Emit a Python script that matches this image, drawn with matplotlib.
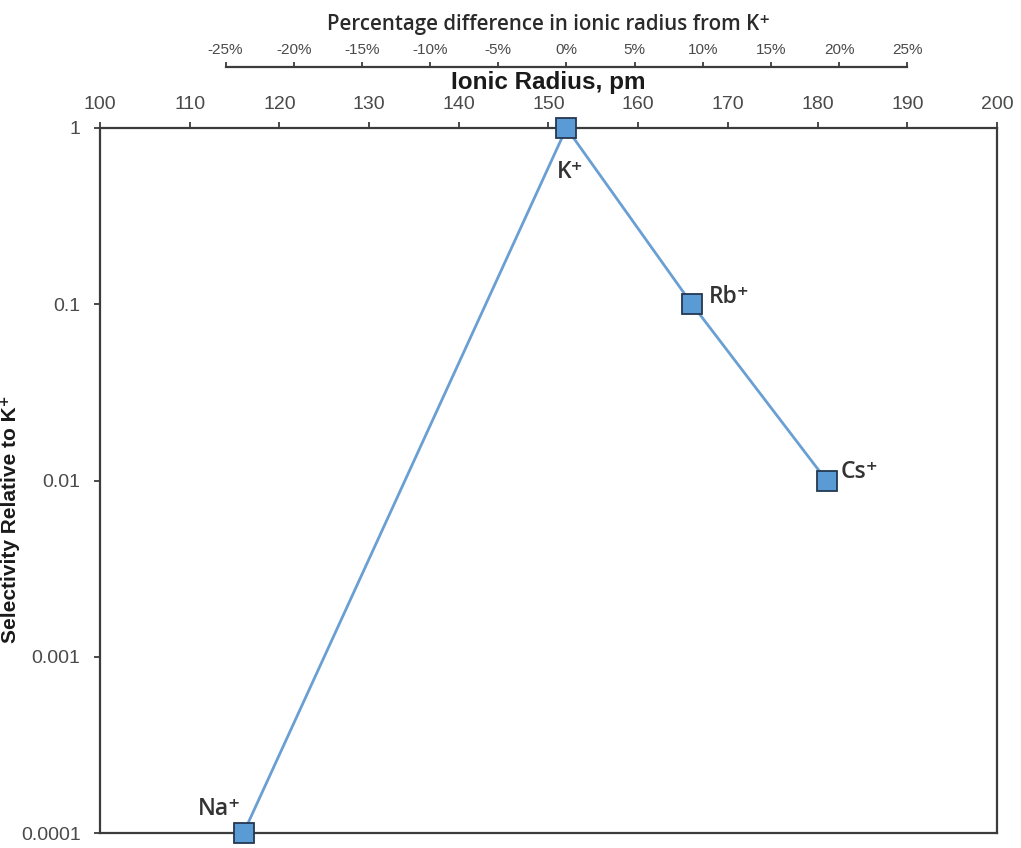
import matplotlib.pyplot as plt
import numpy as np
from matplotlib.ticker import FixedLocator, FuncFormatter, NullLocator

ions = ['Na⁺', 'K⁺', 'Rb⁺', 'Cs⁺']
radius_pm = [116, 152, 166, 181]
selectivity = [0.0001, 1, 0.1, 0.01]
ref_radius = 152  # K+
pct_ticks = [-25, -20, -15, -10, -5, 0, 5, 10, 15, 20, 25]
pm_ticks = [100, 110, 120, 130, 140, 150, 160, 170, 180, 190, 200]
sel_ticks = [0.0001, 0.001, 0.01, 0.1, 1]

# label offsets in points, (dx, dy, ha, va)
label_pos = [(-1.5, 17, 'right', 'center'),
             (2.5, -32, 'center', 'center'),
             (12, 5, 'left', 'center'),
             (10, 6, 'left', 'center')]

axis_col = '#3c3c3c'
tick_col = '#4a4a4a'
arial = ['Liberation Sans', 'DejaVu Sans']
myriad = ['Open Sans', 'DejaVu Sans']

fig = plt.figure(figsize=(10.21, 8.48), dpi=100)
ax = fig.add_axes([100 / 1021, 1 - 833 / 848, 897 / 1021, 705 / 848])

ax.plot(radius_pm, selectivity, color='#6a9fd4', lw=2.0, zorder=3, clip_on=False)
ax.plot(radius_pm, selectivity, ls='none', marker='s', ms=15, mfc='#5b9bd5',
        mec='#24384f', mew=1.3, zorder=4, clip_on=False)

for name, x, y, (dx, dy, ha, va) in zip(ions, radius_pm, selectivity, label_pos):
    ax.annotate(name, (x, y), xytext=(dx, dy), textcoords='offset points',
                ha=ha, va=va, fontsize=16.5, fontweight='semibold',
                family=myriad, color='#333333', zorder=5)

ax.set_yscale('log')
ax.set_ylim(0.0001, 1)
ax.set_xlim(100, 200)
ax.yaxis.set_major_locator(FixedLocator(sel_ticks))
ax.yaxis.set_minor_locator(NullLocator())
ax.yaxis.set_major_formatter(FuncFormatter(lambda v, p: '{:g}'.format(v)))
ax.set_xticks(pm_ticks)

ax.xaxis.tick_top()
ax.xaxis.set_label_position('top')
ax.tick_params(axis='both', direction='out', length=4, width=1.3, color=axis_col,
               labelsize=14, labelcolor=tick_col)
ax.tick_params(axis='y', pad=10)
ax.tick_params(axis='x', pad=7)
for lab in ax.get_xticklabels() + ax.get_yticklabels():
    lab.set_family(arial)
for s in ax.spines.values():
    s.set_color(axis_col)
    s.set_linewidth(1.6)

ax.set_xlabel('Ionic Radius, pm', fontsize=17.5, fontweight='bold', color='#1a1a1a',
              family=arial, labelpad=5)
ax.set_ylabel('Selectivity Relative to K⁺', fontsize=15, fontweight='bold',
              color='#1a1a1a', family=arial)
ax.yaxis.set_label_coords(-80 / 897, 0.445)

# percentage scale relative to K+ radius, drawn above the pm axis
sec = ax.secondary_xaxis(1 + 61 / 705,
                         functions=(lambda r: (r / ref_radius - 1) * 100,
                                    lambda p: ref_radius * (1 + p / 100)))
sec.set_xticks(pct_ticks)
sec.xaxis.set_major_formatter(FuncFormatter(lambda v, p: '{:d}%'.format(int(round(v)))))
sec.spines['top'].set_bounds(-25, 25)
sec.spines['top'].set_color(axis_col)
sec.spines['top'].set_linewidth(1.6)
sec.tick_params(direction='out', length=3.5, width=1.3, color=axis_col,
                labelsize=11, labelcolor=tick_col, pad=4)
for lab in sec.get_xticklabels():
    lab.set_family(['Liberation Sans Narrow'] + arial)
sec.set_xlabel('Percentage difference in ionic radius from K⁺', fontsize=14.8,
               fontweight='semibold', color='#2a2a2a', family=myriad, labelpad=9)

fig.savefig('out.png', dpi=100)
